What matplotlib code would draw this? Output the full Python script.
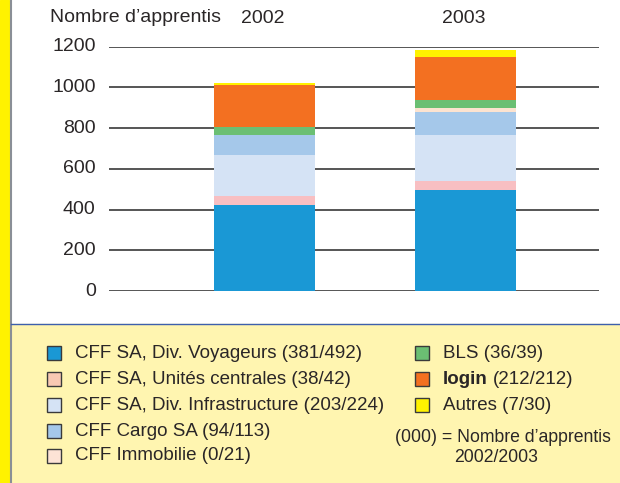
import matplotlib.pyplot as plt
from matplotlib.patches import Rectangle
from matplotlib.lines import Line2D

plt.rcParams['font.family'] = ['Liberation Sans', 'DejaVu Sans']

# data
years = ['2002', '2003']
series = ['CFF SA, Div. Voyageurs', 'CFF SA, Unités centrales',
          'CFF SA, Div. Infrastructure', 'CFF Cargo SA', 'CFF Immobilie',
          'BLS', 'login', 'Autres']
counts = ['381/492', '38/42', '203/224', '94/113', '0/21',
          '36/39', '212/212', '7/30']
values_2002 = [421, 45, 201, 99, 0, 38, 208, 9]
values_2003 = [495, 45, 226, 112, 21, 41, 210, 34]
bar_colors = ['#1a98d5', '#f8bfc2', '#d5e3f5', '#a5c8ea', '#fce3d0',
              '#6bbf73', '#f37021', '#fff200']
legend_colors = ['#1a98d5', '#f9c9b3', '#d5e3f5', '#a5c8ea', '#fde3d6',
                 '#6bbf73', '#f37021', '#fff200']
yticks = [0, 200, 400, 600, 800, 1000, 1200]

W, H = 620, 483
txt = '#2a2627'

fig = plt.figure(figsize=(W / 100, H / 100), dpi=100)

def fx(px):
    return px / W

def fy(py):
    return 1 - py / H

# backgrounds / frame
fig.patches.append(Rectangle((0, 0), fx(9), 1, transform=fig.transFigure,
                             color='#fff200', zorder=0))
fig.lines.append(Line2D([fx(10.5), fx(10.5)], [0, 1], transform=fig.transFigure,
                        color='#8a8f96', lw=1.5))
fig.patches.append(Rectangle((fx(11), 0), 1, fy(324), transform=fig.transFigure,
                             color='#fff5b0', zorder=0))
fig.lines.append(Line2D([fx(11), 1], [fy(324), fy(324)], transform=fig.transFigure,
                        color='#3d5fae', lw=1.0))

# main axes: y 0 at px 291, 1200 at px 46.7
ax = fig.add_axes([fx(109), fy(291), fx(599 - 109), (291 - 46.7) / H])
ax.set_xlim(-0.774, 1.664)
ax.set_ylim(0, 1200)
ax.axis('off')

for t in yticks:
    ax.axhline(t, color='#555555', lw=1.4, zorder=1)
    ax.text(-0.84, t, str(t), ha='right', va='center', fontsize=14, color=txt)

x = [0, 1]
bottoms = [0, 0]
for i in range(len(series)):
    vals = [values_2002[i], values_2003[i]]
    ax.bar(x, vals, bottom=bottoms, width=0.502, color=bar_colors[i],
           zorder=2, linewidth=0)
    bottoms = [bottoms[0] + vals[0], bottoms[1] + vals[1]]

fig.text(fx(50), fy(18), 'Nombre d\u2019apprentis', fontsize=14, color=txt,
         ha='left', va='center')
for xi, yr in zip(x, years):
    ax.text(xi - 0.01, 1337, yr, ha='center', va='center', fontsize=14, color=txt,
            clip_on=False)

# legend
rows = [353, 379, 405, 431, 456]
for i in range(len(series)):
    if i < 5:
        sx, ty = 47, rows[i]
    else:
        sx, ty = 415, rows[i - 5]
    fig.patches.append(Rectangle((fx(sx), fy(ty + 7)), fx(14), 14 / H,
                                 transform=fig.transFigure, facecolor=legend_colors[i],
                                 edgecolor='#3a3a3a', lw=1.0))
    if series[i] == 'login':
        fig.text(fx(sx + 28), fy(ty), 'login', fontsize=13.5, fontweight='bold',
                 color=txt, va='center', ha='left')
        fig.text(fx(sx + 78), fy(ty), '(' + counts[i] + ')', fontsize=13.5,
                 color=txt, va='center', ha='left')
    else:
        fig.text(fx(sx + 28), fy(ty), series[i] + ' (' + counts[i] + ')',
                 fontsize=13.5, color=txt, va='center', ha='left')

fig.text(fx(395), fy(437), '(000) = Nombre d\u2019apprentis', fontsize=12.7,
         color=txt, va='center', ha='left')
fig.text(fx(496), fy(457), '2002/2003', fontsize=12.7, color=txt,
         va='center', ha='center')

fig.savefig('out.png', dpi=100)
